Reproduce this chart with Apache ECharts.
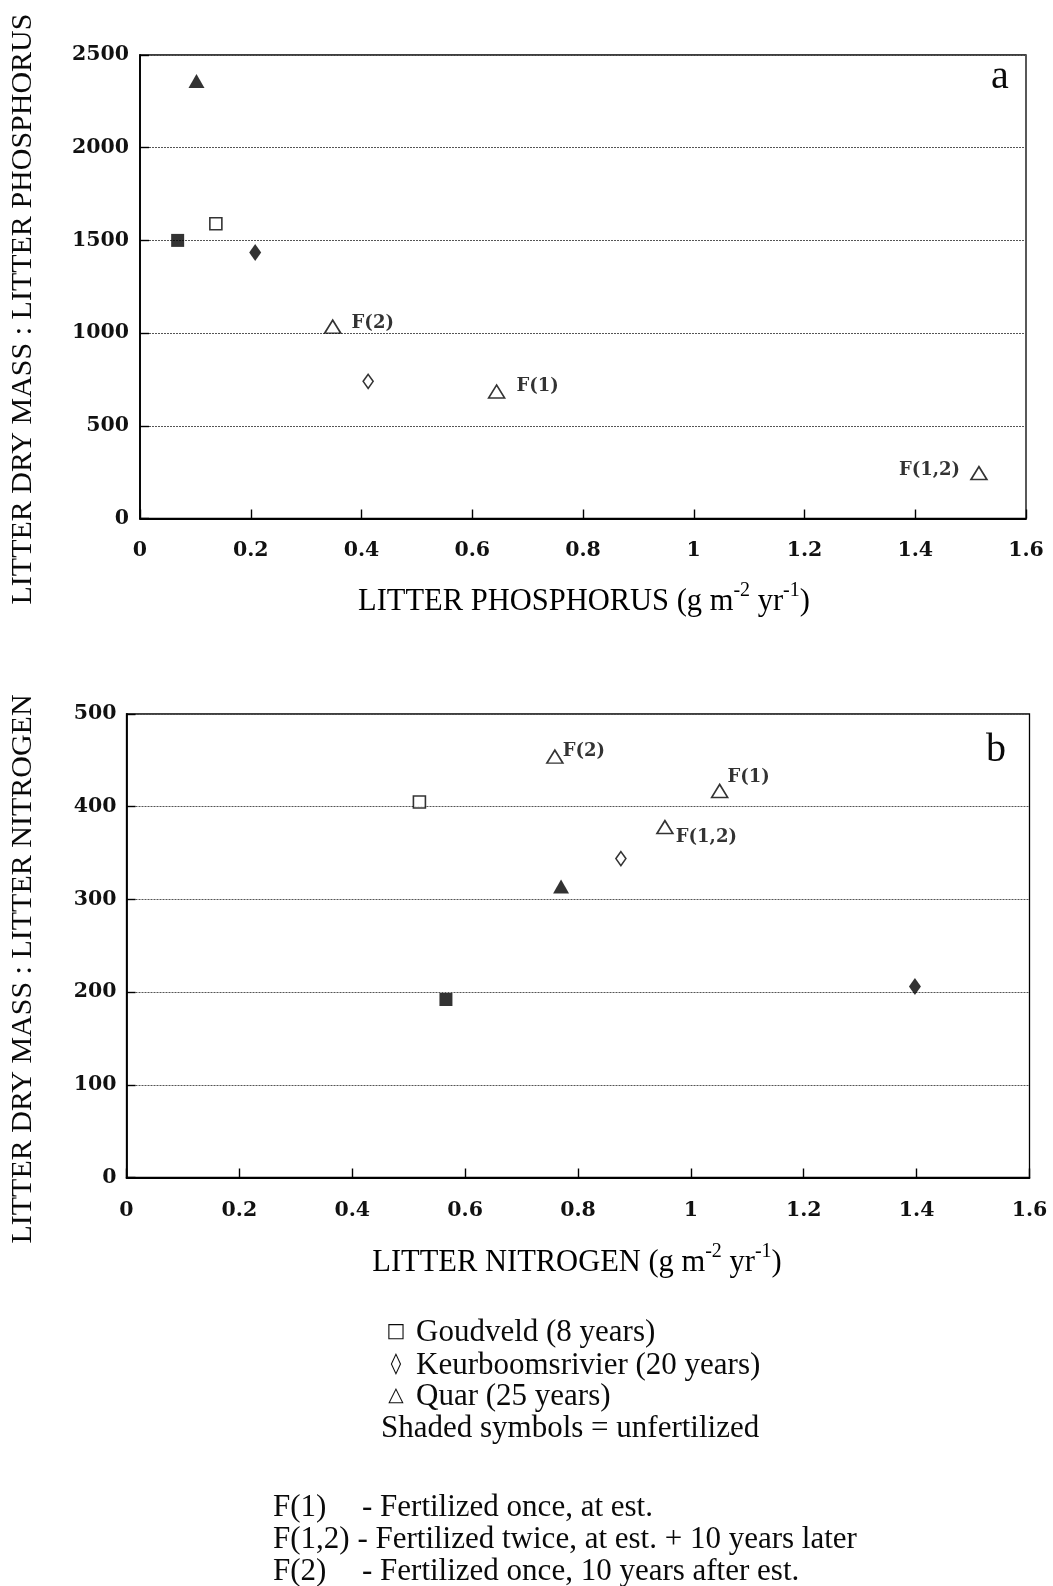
<!DOCTYPE html>
<html>
<head>
<meta charset="utf-8">
<script src="https://cdn.jsdelivr.net/npm/echarts@6/dist/echarts.min.js"></script>
<style>
  html, body { margin: 0; padding: 0; background: #fff; }
  #chart { width: 1053px; height: 1586px; }
</style>
</head>
<body>
<div id="chart"></div>
<script>
// ---------- DATA ----------
// Panel a: [litter phosphorus (g m-2 yr-1), litter dry mass : litter P]
const aGoudveldUnfert = [[0.068, 1500]];
const aGoudveldFert   = [[0.137, 1590]];
const aKeurUnfert     = [[0.208, 1435]];
const aKeurFert       = [[0.412, 740]];
const aQuarUnfert     = [[0.102, 2360]];
const aQuarFert       = [[0.348, 1035], [0.644, 685], [1.515, 245]];
const aQuarFertLabels = ['F(2)', 'F(1)', 'F(1,2)'];

// Panel b: [litter nitrogen (g m-2 yr-1), litter dry mass : litter N]
const bGoudveldUnfert = [[0.566, 192]];
const bGoudveldFert   = [[0.519, 405]];
const bKeurUnfert     = [[1.397, 206]];
const bKeurFert       = [[0.876, 344]];
const bQuarUnfert     = [[0.770, 314]];
const bQuarFert       = [[0.759, 454], [1.051, 417], [0.954, 378]];
const bQuarFertLabels = ['F(2)', 'F(1)', 'F(1,2)'];

const xMin = 0, xMax = 1.6, xInterval = 0.2;
const yAMin = 0, yAMax = 2500, yAInterval = 500;
const yBMin = 0, yBMax = 500, yBInterval = 100;

const legendLines = ['Goudveld (8 years)', 'Keurboomsrivier (20 years)', 'Quar (25 years)'];
const legendSymbols = ['\u25A1', '\u25CA', '\u25B3'];
const shadedNote = 'Shaded symbols = unfertilized';
const footCodes = ['F(1)', 'F(1,2)', 'F(2)'];
const footTexts = ['- Fertilized once, at est.', '- Fertilized twice, at est. + 10 years later', '- Fertilized once, 10 years after est.'];

// ---------- STYLES ----------
const tickFont = { fontFamily: 'DejaVu Serif', fontSize: 20.5, fontWeight: 'bold', color: '#111' };
const serif = 'Liberation Serif';
const ink = '#0a0a0a';

const labelPosA = {
  'F(2)':   { position: 'right', distance: 10, offset: [0, -3] },
  'F(1)':   { position: 'right', distance: 11, offset: [0, -5] },
  'F(1,2)': { position: 'left',  distance: 10, offset: [0, -3] }
};
const labelPosB = {
  'F(2)':   { position: 'right', distance: -1, offset: [0, -5] },
  'F(1)':   { position: 'right', distance: -1, offset: [0, -14] },
  'F(1,2)': { position: 'right', distance: 2,  offset: [0, 10] }
};

function xAxisCfg(gi) {
  return {
    gridIndex: gi, type: 'value', min: xMin, max: xMax, interval: xInterval,
    axisLine: { show: true, onZero: false, lineStyle: { color: '#000', width: 1.8 } },
    axisTick: { show: true, inside: true, length: 9, lineStyle: { color: '#000', width: 1.4 } },
    axisLabel: Object.assign({ margin: gi === 0 ? 22 : 23, formatter: v => String(+v.toFixed(1)) }, tickFont),
    splitLine: { show: false }
  };
}
function yAxisCfg(gi, min, max, interval, margin) {
  return {
    gridIndex: gi, type: 'value', min: min, max: max, interval: interval,
    axisLine: { show: true, onZero: false, lineStyle: { color: '#000', width: 1.8 } },
    axisTick: { show: true, inside: true, length: 9, lineStyle: { color: '#000', width: 1.4 } },
    axisLabel: Object.assign({ margin: margin, formatter: v => String(Math.round(v)) }, tickFont),
    splitLine: { show: true, lineStyle: { color: '#555', width: 1.2, type: [2, 1] } }
  };
}

const openStyle = { color: '#fff', borderColor: '#000', borderWidth: 1.6 };
const fillStyle = { color: '#000', borderColor: '#000', borderWidth: 0 };

function scatter(gi, data, symbol, size, style, z) {
  return {
    type: 'scatter', xAxisIndex: gi, yAxisIndex: gi, data: data,
    symbol: symbol, symbolSize: size, itemStyle: style, z: z || 3,
    emphasis: { disabled: true }, silent: true, animation: false
  };
}
function labeled(gi, data, names, posMap) {
  const s = scatter(gi, data.map((d, i) => ({
    value: d,
    label: Object.assign({ show: true, formatter: names[i] }, posMap[names[i]])
  })), 'triangle', [16, 13], openStyle, 4);
  s.label = { show: true, fontFamily: 'DejaVu Serif', fontWeight: 'bold', fontSize: 18, color: '#000' };
  return s;
}

const chart = echarts.init(document.getElementById('chart'), null, { renderer: 'canvas' });

const graphics = [];
function txt(x, y, text, font, align, extra) {
  const g = { type: 'text', x: x, y: y,
    style: { text: text, font: font, fill: ink, textAlign: align || 'left', textVerticalAlign: 'middle' } };
  return Object.assign(g, extra || {});
}
// y axis titles
graphics.push(txt(23, 309, 'LITTER DRY MASS : LITTER PHOSPHORUS', '30px "' + serif + '"', 'center', { rotation: Math.PI / 2 }));
graphics.push(txt(23, 969, 'LITTER DRY MASS : LITTER NITROGEN', '30px "' + serif + '"', 'center', { rotation: Math.PI / 2 }));
// x axis titles
const richSup = {
  m: { fontFamily: serif, fontSize: 30.5, lineHeight: 36, color: ink, verticalAlign: 'bottom' },
  s: { fontFamily: serif, fontSize: 20, lineHeight: 20, color: ink, verticalAlign: 'top' }
};
graphics.push({ type: 'text', x: 584, y: 599,
  style: { text: '{m|LITTER PHOSPHORUS (g m}{s|-2}{m| yr}{s|-1}{m|)}', rich: richSup, textAlign: 'center', textVerticalAlign: 'middle' } });
graphics.push({ type: 'text', x: 577, y: 1260,
  style: { text: '{m|LITTER NITROGEN (g m}{s|-2}{m| yr}{s|-1}{m|)}', rich: richSup, textAlign: 'center', textVerticalAlign: 'middle' } });
// panel letters
graphics.push(txt(1000, 77, 'a', '40px "' + serif + '"', 'center'));
graphics.push(txt(996, 750, 'b', '40px "' + serif + '"', 'center'));
// legend block
const legY = [1333, 1365.5, 1397];
const legFont = '31px "' + serif + '"';
legendLines.forEach((t, i) => {
  graphics.push(txt(396, legY[i] - 1, legendSymbols[i], (i === 1 ? '21px' : '20px') + ' "DejaVu Sans"', 'center'));
  graphics.push(txt(416, legY[i], t, legFont));
});
graphics.push(txt(381, 1429, shadedNote, legFont));
const footY = [1508, 1540, 1572];
footCodes.forEach((c, i) => {
  if (i === 1) {
    graphics.push(txt(273, footY[i], c + ' ' + footTexts[i], legFont));
  } else {
    graphics.push(txt(273, footY[i], c, legFont));
    graphics.push(txt(362, footY[i], footTexts[i], legFont));
  }
});

const option = {
  backgroundColor: '#fff',
  animation: false,
  grid: [
    { left: 140, top: 55, width: 886, height: 463.5, show: true, borderColor: '#000', borderWidth: 1.3, backgroundColor: 'transparent' },
    { left: 126.5, top: 714, width: 903, height: 463.5, show: true, borderColor: '#000', borderWidth: 1.3, backgroundColor: 'transparent' }
  ],
  xAxis: [xAxisCfg(0), xAxisCfg(1)],
  yAxis: [yAxisCfg(0, yAMin, yAMax, yAInterval, 11), yAxisCfg(1, yBMin, yBMax, yBInterval, 10)],
  series: [
    scatter(0, aGoudveldUnfert, 'rect', 13, fillStyle),
    scatter(0, aGoudveldFert, 'rect', 12, openStyle),
    scatter(0, aKeurUnfert, 'diamond', [12, 17], fillStyle),
    scatter(0, aKeurFert, 'diamond', [10, 14], openStyle),
    scatter(0, aQuarUnfert, 'triangle', [16, 14], fillStyle),
    labeled(0, aQuarFert, aQuarFertLabels, labelPosA),
    scatter(1, bGoudveldUnfert, 'rect', 13, fillStyle),
    scatter(1, bGoudveldFert, 'rect', 12, openStyle),
    scatter(1, bKeurUnfert, 'diamond', [12, 17], fillStyle),
    scatter(1, bKeurFert, 'diamond', [10, 14], openStyle),
    scatter(1, bQuarUnfert, 'triangle', [16, 14], fillStyle),
    labeled(1, bQuarFert, bQuarFertLabels, labelPosB)
  ],
  graphic: graphics
};
chart.setOption(option);
</script>
</body>
</html>
